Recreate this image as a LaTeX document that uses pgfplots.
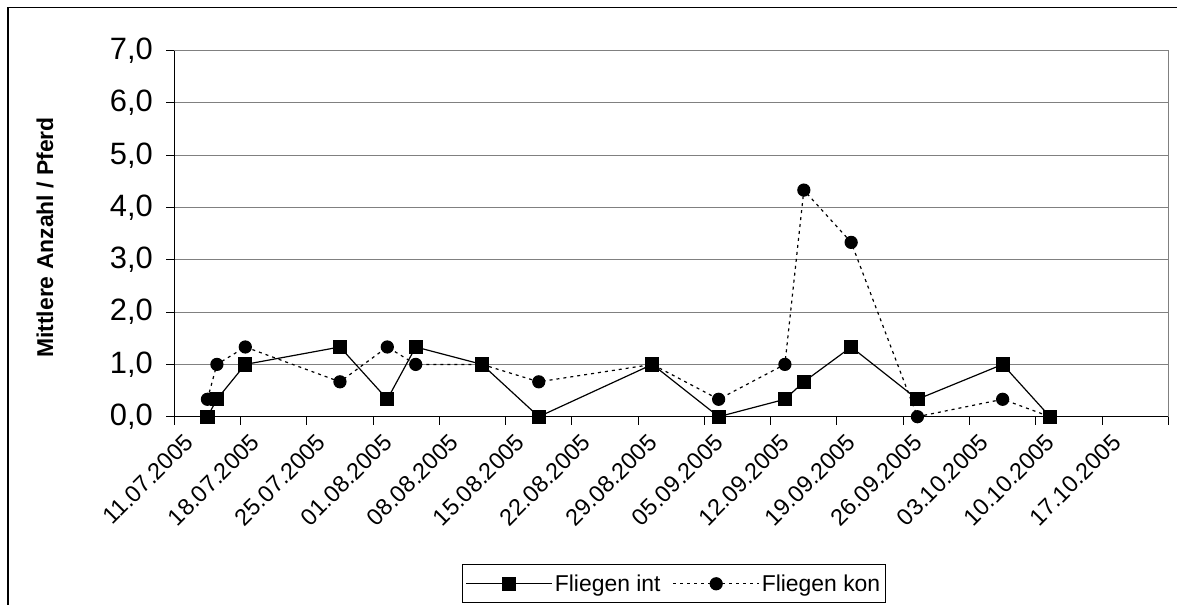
\documentclass[border=0pt]{standalone}
\usepackage{fontspec}
\setmainfont{Liberation Sans}
\usepackage{pgfplots}
\pgfplotsset{compat=1.18}
\definecolor{gridgray}{RGB}{128,128,128}

% x: days since 11.07.2005 (points sit in the middle of their day)
\begin{document}
\begin{tikzpicture}
\useasboundingbox (0,0) rectangle (1177bp,605bp);
\draw[line width=1.2bp] (8bp,0) -- (8bp,597.7bp) -- (1177bp,597.7bp);
\begin{axis}[
  at={(174.3bp,188.3bp)}, anchor=south west,
  width=994bp, height=366.1bp, scale only axis,
  xmin=0, xmax=105, ymin=0, ymax=7,
  clip=false,
  xtick={0,7,...,105},
  xticklabels={11.07.2005,18.07.2005,25.07.2005,01.08.2005,08.08.2005,15.08.2005,22.08.2005,29.08.2005,05.09.2005,12.09.2005,19.09.2005,26.09.2005,03.10.2005,10.10.2005,17.10.2005,{}},
  ytick={0,1,...,7},
  /pgf/number format/.cd, fixed, fixed zerofill, precision=1, use comma, assume math mode=true,
  /pgfplots/.cd,
  xticklabel style={rotate=45, anchor=east, xshift=4bp, yshift=-20bp, font=\fontsize{23.5}{28}\selectfont},
  yticklabel style={xshift=-10bp, font=\fontsize{31}{36}\selectfont},
  tick align=outside, tick pos=left,
  major tick length=8bp,
  major tick style={black, line width=1bp},
  axis line style={draw=gridgray, line width=1bp},
  ymajorgrids,
  major grid style={draw=gridgray, line width=1bp},
  ylabel={Mittlere Anzahl / Pferd},
  ylabel style={font=\fontsize{23}{27}\selectfont\bfseries, at={(axis description cs:-0.13,0.4895)}, anchor=center},
  legend columns=2,
  reverse legend,
  legend style={at={(axis description cs:0.5027,-0.4564)}, anchor=center,
    draw=black, line width=1bp, font=\fontsize{23}{27}\selectfont,
    inner xsep=3bp, inner ysep=8bp,
    /tikz/every even column/.append style={column sep=10bp}},
  legend image code/.code={\draw[mark repeat=2, mark phase=2, #1] plot coordinates {(0bp,0bp) (43bp,0bp) (86bp,0bp)};},
]
% Fliegen kon (drawn first so the squares sit on top)
\addplot[black, line width=1.2bp, dash pattern=on 3bp off 4bp, mark=*, mark size=6bp, mark options={solid}]
  coordinates {(3.5,0.333) (4.5,1) (7.5,1.333) (17.5,0.667) (22.5,1.333) (25.5,1) (32.5,1) (38.5,0.667)
  (50.5,1) (57.5,0.333) (64.5,1) (66.5,4.333) (71.5,3.333) (78.5,0) (87.5,0.333) (92.5,0)};
\addlegendentry{Fliegen kon}
% Fliegen int
\addplot[black, line width=1.2bp, mark=square*, mark size=6.5bp, mark options={solid}]
  coordinates {(3.5,0) (4.5,0.333) (7.5,1) (17.5,1.333) (22.5,0.333) (25.5,1.333) (32.5,1) (38.5,0)
  (50.5,1) (57.5,0) (64.5,0.333) (66.5,0.667) (71.5,1.333) (78.5,0.333) (87.5,1) (92.5,0)};
\addlegendentry{Fliegen int}
\draw[black, line width=1.2bp] (rel axis cs:0,1) -- (rel axis cs:0,0) -- (rel axis cs:1,0);
\end{axis}
\end{tikzpicture}
\end{document}
